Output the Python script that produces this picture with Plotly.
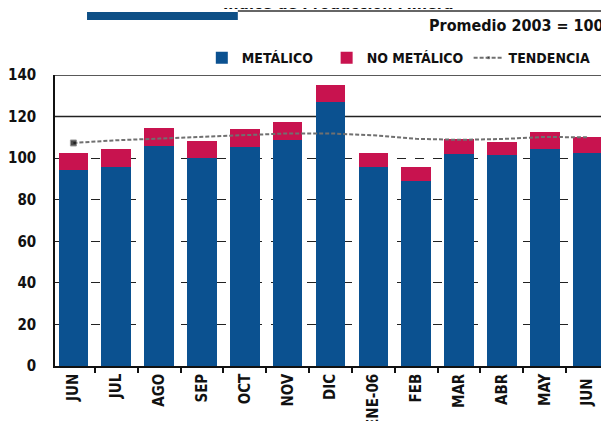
import plotly.graph_objects as go

months = ["JUN", "JUL", "AGO", "SEP", "OCT", "NOV", "DIC", "ENE-06", "FEB", "MAR", "ABR", "MAY", "JUN "]
metalico = [94.5, 95.8, 105.8, 100.2, 105.4, 108.7, 127.1, 95.8, 88.9, 101.8, 101.4, 104.3, 102.5]
no_metalico = [8.0, 8.4, 8.8, 8.1, 8.4, 8.7, 8.1, 6.9, 6.9, 7.2, 6.3, 8.2, 7.7]
tendencia = [107.3, 108.6, 109.4, 110.2, 111.0, 111.9, 111.9, 111.0, 109.3, 108.8, 109.2, 110.2, 110.0]
y_ticks = [0, 20, 40, 60, 80, 100, 120, 140]

FONT = "Liberation Sans Narrow, DejaVu Sans Condensed, Roboto Condensed, Arial Narrow, Liberation Sans, sans-serif"
BLUE = "#0b5190"
RED = "#c8134f"

fig = go.Figure()
fig.add_trace(go.Bar(x=months, y=metalico, name="METÁLICO\u00a0\u00a0", marker=dict(color=BLUE, line=dict(width=0))))
fig.add_trace(go.Bar(x=months, y=no_metalico, name="NO METÁLICO", marker=dict(color=RED, line=dict(width=0))))
fig.add_trace(go.Scatter(
    x=months, y=tendencia, name="TENDENCIA", mode="lines+markers",
    line=dict(color="#707070", width=2, dash="4px,2px"),
    marker=dict(symbol="square", color="black", size=[6] + [0] * (len(months) - 1)),
))

# 120 and 140 solid reference lines
for v in (120, 140):
    fig.add_shape(type="line", xref="paper", yref="y", x0=0, x1=1, y0=v, y1=v,
                  line=dict(color="#222", width=1.5), layer="below")

# header decoration
fig.add_shape(type="rect", xref="paper", yref="paper", x0=0.0578, x1=0.330, y0=1.189, y1=1.2165,
              fillcolor="#0e4f86", line=dict(width=0))
fig.add_shape(type="line", xref="paper", yref="paper", x0=0.330, x1=1.0, y0=1.2200, y1=1.2200,
              line=dict(color="#666", width=2))

fig.add_annotation(text="Índice de Producción Minera", xref="paper", yref="paper",
                   x=0.30, y=1.247, xanchor="left", yanchor="middle", showarrow=False,
                   font=dict(family=FONT, size=16, color="#111", weight="bold"))
fig.add_annotation(text="Promedio 2003 = 100", xref="paper", yref="paper",
                   x=0.671, y=1.1718, xanchor="left", yanchor="middle", showarrow=False,
                   font=dict(family=FONT, size=16, color="#111", weight="bold"))

# page body has an 8px default margin; compensate so the plot area lands where the reference has it
fig.update_layout(
    width=601, height=413,
    margin=dict(l=47, r=0, t=67, b=55),
    barmode="stack", bargap=0.31,
    plot_bgcolor="white", paper_bgcolor="white",
    font=dict(family=FONT, color="#111", weight="bold"),
    legend=dict(orientation="h", x=0.265, y=1.058, xanchor="left", yanchor="middle",
                font=dict(family=FONT, size=14, color="#111", weight="bold"),
                bgcolor="rgba(0,0,0,0)", itemwidth=30, traceorder="normal"),
    showlegend=True,
)
fig.update_xaxes(type="category", range=[-0.43, 12.5], showline=True, linecolor="#111", linewidth=1.5,
                 ticks="outside", tickson="boundaries", ticklen=5, tickcolor="#111", tickwidth=1.5,
                 tickangle=-90, tickfont=dict(family=FONT, size=15, color="#111", weight="bold"),
                 showgrid=False, automargin=False, fixedrange=True)
fig.update_yaxes(range=[0, 140], tickvals=y_ticks, showline=True, linecolor="#111", linewidth=1.5,
                 showgrid=True, gridcolor="#222", gridwidth=1, griddash="dash",
                 ticks="", ticklabelstandoff=14,
                 tickfont=dict(family=FONT, size=15, color="#111", weight="bold"),
                 zeroline=False, automargin=False, fixedrange=True)

fig.write_html("out.html")
